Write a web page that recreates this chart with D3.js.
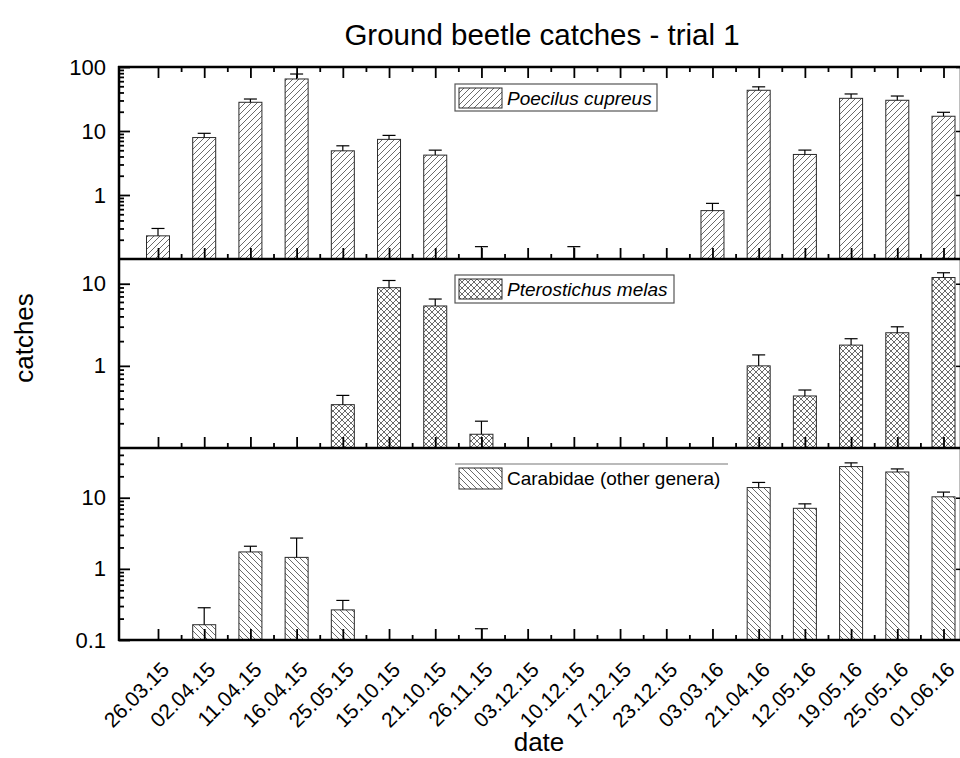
<!DOCTYPE html>
<html>
<head>
<meta charset="utf-8">
<script src="https://cdn.jsdelivr.net/npm/d3@7"></script>
<style>
  html,body{margin:0;padding:0;background:#fff;}
  svg{display:block;font-family:"Liberation Sans",Arial,sans-serif;}
</style>
</head>
<body>
<svg id="chart" width="960" height="758"></svg>
<script>
// ---------------- data ----------------
const dates = ["26.03.15","02.04.15","11.04.15","16.04.15","25.05.15","15.10.15","21.10.15","26.11.15","03.12.15","10.12.15","17.12.15","23.12.15","03.03.16","21.04.16","12.05.16","19.05.16","25.05.16","01.06.16"];

const poecilus   = [0.23, 7.9, 28.1, 65, 4.9, 7.4, 4.2, 0, 0, 0, 0, 0, 0.57, 43.3, 4.3, 32.4, 30.2, 17.0];
const poecilusSE = [0.07, 1.3, 3.5, 12.7, 0.97, 1.14, 0.82, 0.156, 0, 0.156, 0, 0, 0.17, 5.7, 0.73, 5.5, 5.0, 2.6];

const pterostichus   = [0, 0, 0, 0, 0.337, 8.95, 5.36, 0.147, 0, 0, 0, 0, 0, 1.0, 0.43, 1.79, 2.53, 11.9];
const pterostichusSE = [0, 0, 0, 0, 0.10, 2.0, 1.15, 0.065, 0, 0, 0, 0, 0, 0.36, 0.078, 0.35, 0.46, 1.7];

const carabidae   = [0, 0.164, 1.73, 1.45, 0.265, 0, 0, 0, 0, 0, 0, 0, 0, 13.9, 7.1, 27.4, 23.0, 10.3];
const carabidaeSE = [0, 0.12, 0.35, 1.26, 0.095, 0, 0, 0.144, 0, 0, 0, 0, 0, 2.5, 1.1, 3.5, 2.4, 1.7];

const seriesNames = ["Poecilus cupreus", "Pterostichus melas", "Carabidae (other genera)"];
const yTicksTop = [1, 10, 100];
const yTicksMid = [1, 10];
const yTicksBot = [0.1, 1, 10];
const yDomainTop = [0.1, 100];
const yDomainMid = [0.1, 20];
const yDomainBot = [0.1, 50];

const titleText = "Ground beetle catches - trial 1";
const xLabel = "date";
const yLabel = "catches";

// ---------------- layout ----------------
const svg = d3.select("#chart");
const left = 119, right = 961;
const xFirst = 158, xLast = 943.5;
const x = d3.scalePoint().domain(dates).range([xFirst, xLast]);
const xi = d3.scaleLinear().domain([0, dates.length - 1]).range([xFirst, xLast]);
const barW = 23;
const FONT = "'Liberation Sans',Arial,sans-serif";

// patterns
const defs = svg.append("defs");
function pat(id, d, size) {
  const p = defs.append("pattern").attr("id", id).attr("patternUnits", "userSpaceOnUse")
    .attr("width", size).attr("height", size);
  p.append("rect").attr("width", size).attr("height", size).attr("fill", "#fff");
  p.append("path").attr("d", d).attr("stroke", "#3a3a3a").attr("stroke-width", 0.75).attr("fill", "none");
}
pat("p-up", "M-1,1 l2,-2 M0,6 l6,-6 M5,7 l2,-2", 6);
pat("p-down", "M-1,5 l2,2 M0,0 l6,6 M5,-1 l2,2", 6);
pat("p-cross", "M-1,1 l2,-2 M0,6 l6,-6 M5,7 l2,-2 M-1,5 l2,2 M0,0 l6,6 M5,-1 l2,2", 6);

const panels = [
  {values: poecilus, se: poecilusSE, domain: yDomainTop, range: [259, 67], ticks: yTicksTop, pattern: "p-up",
   name: seriesNames[0], italic: true, legend: {bx: 455, by: 84, bw: 202, bh: 27, sy: 88, sh: 20, ty: 105, box: true}},
  {values: pterostichus, se: pterostichusSE, domain: yDomainMid, range: [448, 259], ticks: yTicksMid, pattern: "p-cross",
   name: seriesNames[1], italic: true, legend: {bx: 455, by: 275, bw: 219, bh: 28, sy: 279, sh: 20, ty: 296, box: true}},
  {values: carabidae, se: carabidaeSE, domain: yDomainBot, range: [640, 448], ticks: yTicksBot, pattern: "p-down",
   name: seriesNames[2], italic: false, legend: {bx: 455, by: 464, bw: 273, bh: 27, sy: 468, sh: 21, ty: 485, box: false}}
];

panels.forEach((p, pi) => {
  const y = d3.scaleLog().domain(p.domain).range(p.range).clamp(true);
  const ymin = p.domain[0];
  const g = svg.append("g");

  // bars
  const data = dates.map((d, i) => ({d, v: p.values[i], s: p.se[i]}));
  g.selectAll("rect.bar").data(data.filter(e => e.v > ymin)).join("rect")
    .attr("class", "bar")
    .attr("x", e => x(e.d) - barW / 2)
    .attr("width", barW)
    .attr("y", e => y(e.v))
    .attr("height", e => y(ymin) - y(e.v))
    .attr("fill", `url(#${p.pattern})`)
    .attr("stroke", "#2a2a2a").attr("stroke-width", 1);

  // error bars
  const eb = data.filter(e => e.s > 0);
  g.selectAll("line.err").data(eb).join("line")
    .attr("x1", e => x(e.d)).attr("x2", e => x(e.d))
    .attr("y1", e => y(Math.max(e.v, ymin))).attr("y2", e => y(e.v + e.s))
    .attr("stroke", "#000").attr("stroke-width", 1.2);
  g.selectAll("line.cap").data(eb).join("line")
    .attr("x1", e => x(e.d) - 6.5).attr("x2", e => x(e.d) + 6.5)
    .attr("y1", e => y(e.v + e.s)).attr("y2", e => y(e.v + e.s))
    .attr("stroke", "#000").attr("stroke-width", 1.2);

  // left axis major
  const ax = svg.append("g").attr("transform", `translate(${left},0)`)
    .call(d3.axisLeft(y).tickValues(p.ticks).tickFormat(d3.format("~g"))
      .tickSizeInner(-11).tickSizeOuter(0).tickPadding(13));
  ax.select(".domain").remove();
  ax.selectAll("line").attr("stroke", "#000").attr("stroke-width", 1.8);
  ax.selectAll("text").attr("font-size", 22).attr("fill", "#000").attr("font-family", FONT);

  // left minor
  const minors = [];
  for (let e = -2; e <= 2; e++) for (let m = 2; m <= 9; m++) {
    const v = m * Math.pow(10, e);
    if (v > p.domain[0] && v < p.domain[1]) minors.push(v);
  }
  const axm = svg.append("g").attr("transform", `translate(${left},0)`)
    .call(d3.axisLeft(y).tickValues(minors).tickFormat("").tickSizeInner(-5).tickSizeOuter(0));
  axm.select(".domain").remove();
  axm.selectAll("line").attr("stroke", "#000").attr("stroke-width", 1.8);

  // right axis ticks
  const ar = svg.append("g").attr("transform", `translate(${right},0)`)
    .call(d3.axisRight(y).tickValues(p.ticks.filter(t => t > p.domain[0])).tickFormat("").tickSizeInner(-5).tickSizeOuter(0));
  ar.select(".domain").remove();
  ar.selectAll("line").attr("stroke", "#000").attr("stroke-width", 1.5);

  // bottom ticks
  const yb = p.range[0];
  const bx = svg.append("g").attr("transform", `translate(0,${yb})`)
    .call(d3.axisBottom(x).tickSizeInner(-11).tickSizeOuter(0).tickPadding(0));
  bx.select(".domain").remove();
  bx.selectAll("line").attr("stroke", "#000").attr("stroke-width", 1.8);
  if (pi === panels.length - 1) {
    bx.selectAll("text")
      .attr("x", 0).attr("y", 0).attr("dy", 0)
      .attr("text-anchor", "end")
      .attr("transform", "translate(12,31) rotate(-45)")
      .attr("font-size", 21).attr("fill", "#000").attr("font-family", FONT);
  } else {
    bx.selectAll("text").remove();
  }
  const bxm = svg.append("g").attr("transform", `translate(0,${yb})`)
    .call(d3.axisBottom(xi).tickValues(d3.range(0.5, dates.length - 1, 1)).tickFormat("").tickSizeInner(-5).tickSizeOuter(0));
  bxm.select(".domain").remove();
  bxm.selectAll("line").attr("stroke", "#000").attr("stroke-width", 1.8);

  // top ticks (top panel only)
  if (pi === 0) {
    const yt = p.range[1];
    const tx = svg.append("g").attr("transform", `translate(0,${yt})`)
      .call(d3.axisTop(x).tickFormat("").tickSizeInner(-11).tickSizeOuter(0));
    tx.select(".domain").remove();
    tx.selectAll("line").attr("stroke", "#000").attr("stroke-width", 1.8);
    const txm = svg.append("g").attr("transform", `translate(0,${yt})`)
      .call(d3.axisTop(xi).tickValues(d3.range(0.5, dates.length - 1, 1)).tickFormat("").tickSizeInner(-5).tickSizeOuter(0));
    txm.select(".domain").remove();
    txm.selectAll("line").attr("stroke", "#000").attr("stroke-width", 1.8);
  }

  // legend
  const L = p.legend;
  const lg = svg.append("g");
  if (L.box) {
    lg.append("rect").attr("x", L.bx).attr("y", L.by).attr("width", L.bw).attr("height", L.bh)
      .attr("fill", "#fff").attr("stroke", "#555").attr("stroke-width", 1.2);
  } else {
    lg.append("line").attr("x1", L.bx).attr("x2", L.bx + L.bw).attr("y1", L.by).attr("y2", L.by)
      .attr("stroke", "#777").attr("stroke-width", 1.2);
  }
  lg.append("rect").attr("x", 459).attr("y", L.sy).attr("width", 43).attr("height", L.sh)
    .attr("fill", `url(#${p.pattern})`).attr("stroke", "#2a2a2a").attr("stroke-width", 1);
  lg.append("text").attr("x", 507).attr("y", L.ty).text(p.name)
    .attr("font-size", 19).attr("font-style", p.italic ? "italic" : "normal").attr("fill", "#000");
});

// frame lines
const frame = svg.append("g").attr("stroke", "#000").attr("stroke-width", 2.5);
frame.append("line").attr("x1", left).attr("x2", left).attr("y1", 66).attr("y2", 641);
[67, 259, 448, 640].forEach(yy => {
  frame.append("line").attr("x1", left - 1).attr("x2", 960).attr("y1", yy).attr("y2", yy);
});
frame.append("line").attr("x1", right).attr("x2", right).attr("y1", 66).attr("y2", 641);

// titles
svg.append("text").attr("x", 542).attr("y", 45).attr("text-anchor", "middle")
  .attr("font-size", 29.5).attr("fill", "#000").text(titleText);
svg.append("text").attr("x", 539).attr("y", 751).attr("text-anchor", "middle")
  .attr("font-size", 26).attr("fill", "#000").text(xLabel);
svg.append("text").attr("transform", "translate(33,338) rotate(-90)").attr("text-anchor", "middle")
  .attr("font-size", 26).attr("fill", "#000").text(yLabel);
</script>
</body>
</html>
